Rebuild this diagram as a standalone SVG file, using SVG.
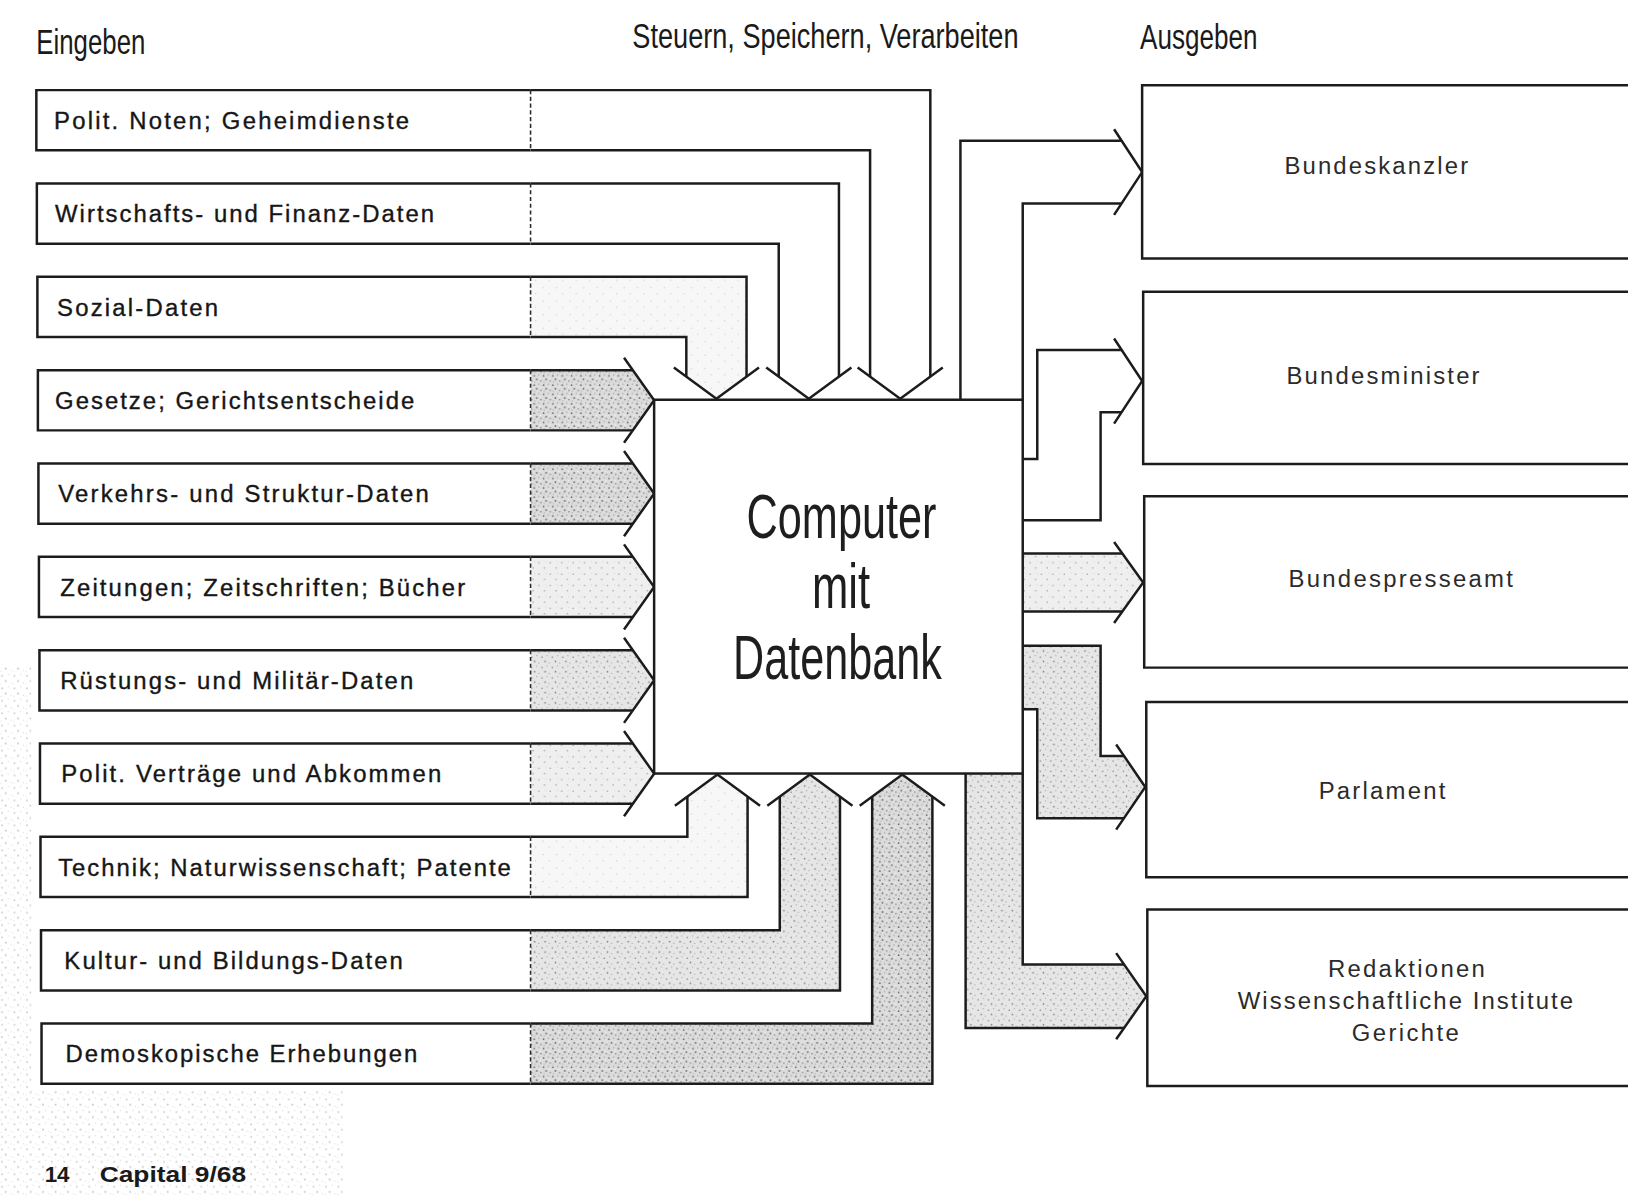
<svg xmlns="http://www.w3.org/2000/svg" width="1628" height="1197" viewBox="0 0 1628 1197">
<defs>
<style>
.ln{fill:none;stroke:#1c1c1c;stroke-width:2.4;stroke-linejoin:miter}
.wg{fill:none;stroke:#1c1c1c;stroke-width:2.4;stroke-linejoin:miter}
.bx{fill:#ffffff;stroke:#1c1c1c;stroke-width:2.4}
.sep{stroke:#2a2a2a;stroke-width:1.5;stroke-dasharray:4 2.5}
.lbl{font-family:"Liberation Sans",Arial,sans-serif;font-size:23px;fill:#161616;stroke:#161616;stroke-width:0.35}
.rlbl{font-family:"Liberation Sans",Arial,sans-serif;font-size:23px;fill:#2b2b2b}
.hdr{font-family:"Liberation Sans",Arial,sans-serif;font-size:34px;fill:#1a1a1a}
.cmp{font-family:"Liberation Sans",Arial,sans-serif;font-size:60px;fill:#1e1e1e}
.ftr{font-family:"Liberation Sans",Arial,sans-serif;font-size:22px;font-weight:bold;fill:#1a1a1a}
.fD{fill:url(#stD);stroke:none}
.fM{fill:url(#stM);stroke:none}
.fL{fill:url(#stL);stroke:none}
.fX{fill:url(#stX);stroke:none}
</style>
<pattern id="stD" width="9" height="9" patternUnits="userSpaceOnUse">
<rect width="9" height="9" fill="#dcdcdc"/>
<circle cx="1.5" cy="2" r="0.8" fill="#666"/>
<circle cx="6" cy="1" r="0.6" fill="#888"/>
<circle cx="4" cy="5.5" r="0.9" fill="#707070"/>
<circle cx="8" cy="7" r="0.6" fill="#666"/>
<circle cx="2" cy="8" r="0.5" fill="#999"/>
<circle cx="7.5" cy="4" r="0.5" fill="#fff"/>
</pattern>
<pattern id="stM" width="10" height="10" patternUnits="userSpaceOnUse">
<rect width="10" height="10" fill="#e6e6e6"/>
<circle cx="2" cy="3" r="0.7" fill="#777"/>
<circle cx="7" cy="1.5" r="0.5" fill="#999"/>
<circle cx="5" cy="7" r="0.8" fill="#808080"/>
<circle cx="9" cy="8.5" r="0.5" fill="#8a8a8a"/>
</pattern>
<pattern id="stL" width="11" height="11" patternUnits="userSpaceOnUse">
<rect width="11" height="11" fill="#efefef"/>
<circle cx="2" cy="3" r="0.6" fill="#8a8a8a"/>
<circle cx="7.5" cy="8" r="0.7" fill="#999"/>
<circle cx="9" cy="2" r="0.4" fill="#aaa"/>
</pattern>
<pattern id="stX" width="13" height="13" patternUnits="userSpaceOnUse">
<rect width="13" height="13" fill="#f7f7f7"/>
<circle cx="3" cy="4" r="0.5" fill="#aaa"/>
<circle cx="9" cy="10" r="0.5" fill="#b5b5b5"/>
</pattern>
<pattern id="nz" width="12" height="12" patternUnits="userSpaceOnUse">
<circle cx="2" cy="3" r="0.9" fill="#8a8a8a"/>
<circle cx="8" cy="1.5" r="0.6" fill="#a0a0a0"/>
<circle cx="5.5" cy="8" r="1" fill="#909090"/>
<circle cx="10.5" cy="9.5" r="0.6" fill="#aaa"/>
<circle cx="1" cy="10.5" r="0.5" fill="#b0b0b0"/>
</pattern>
</defs>
<rect width="1628" height="1197" fill="#ffffff"/>
<g transform="scale(1.0383)">

<g id="scan-noise" opacity="0.45">
<path d="M0 640 H30 V1050 H330 V1153 H0 Z" fill="url(#nz)"/>
</g>

<g id="headers">
<text class="hdr" x="35" y="52" textLength="105" lengthAdjust="spacingAndGlyphs">Eingeben</text>
<text class="hdr" x="609" y="46" textLength="372" lengthAdjust="spacingAndGlyphs">Steuern, Speichern, Verarbeiten</text>
<text class="hdr" x="1098" y="47" textLength="113" lengthAdjust="spacingAndGlyphs">Ausgeben</text>
</g>

<g id="connectors">
<polygon class="fX" points="511,266.6 719,266.6 719,362.8 690,384 661,362.8 661,324.6 511,324.6"/>
<polygon class="fD" points="511,356.5 609.5,356.5 630,385.5 609.5,414.5 511,414.5"/>
<polygon class="fD" points="511,446.4 609.5,446.4 630,475.4 609.5,504.4 511,504.4"/>
<polygon class="fL" points="511,536.3 609.5,536.3 630,565.3 609.5,594.3 511,594.3"/>
<polygon class="fM" points="511,626.2 609.5,626.2 630,655.2 609.5,684.2 511,684.2"/>
<polygon class="fL" points="511,716.1 609.5,716.1 630,745.1 609.5,774.1 511,774.1"/>
<polygon class="fX" points="511,806 662,806 662,767.2 691,746 720,767.2 720,864 511,864"/>
<polygon class="fM" points="511,895.9 751,895.9 751,767.2 780,746 809,767.2 809,953.9 511,953.9"/>
<polygon class="fD" points="511,985.8 840,985.8 840,767.2 869,746 898,767.2 898,1043.8 511,1043.8"/>
<polygon class="fL" points="985,533 1080.9,533 1101,561 1080.9,589 985,589"/>
<polygon class="fM" points="985,622 1060,622 1060,728 1082.5,728 1103,758 1082.5,788 999,788 999,683 985,683"/>
<polygon class="fM" points="930,745 985,745 985,929 1082.7,929 1104,959.5 1082.7,990 930,990"/>

<path class="ln" d="M511 86.8 H896 V362.8 M511 144.8 H838 V362.8"/>
<polyline class="wg" points="826,354 867,384 908,354"/>
<path class="ln" d="M511 176.7 H808 V362.8 M511 234.7 H750 V362.8"/>
<polyline class="wg" points="738,354 779,384 820,354"/>
<path class="ln" d="M511 266.6 H719 V362.8 M511 324.6 H661 V362.8"/>
<polyline class="wg" points="649,354 690,384 731,354"/>

<path class="ln" d="M511 356.5 H609.5 M511 414.5 H609.5"/>
<polyline class="wg" points="601,344.5 630,385.5 601,426.5"/>
<path class="ln" d="M511 446.4 H609.5 M511 504.4 H609.5"/>
<polyline class="wg" points="601,434.4 630,475.4 601,516.4"/>
<path class="ln" d="M511 536.3 H609.5 M511 594.3 H609.5"/>
<polyline class="wg" points="601,524.3 630,565.3 601,606.3"/>
<path class="ln" d="M511 626.2 H609.5 M511 684.2 H609.5"/>
<polyline class="wg" points="601,614.2 630,655.2 601,696.2"/>
<path class="ln" d="M511 716.1 H609.5 M511 774.1 H609.5"/>
<polyline class="wg" points="601,704.1 630,745.1 601,786.1"/>

<path class="ln" d="M511 806 H662 V767.2 M511 864 H720 V767.2"/>
<polyline class="wg" points="650,776 691,746 732,776"/>
<path class="ln" d="M511 895.9 H751 V767.2 M511 953.9 H809 V767.2"/>
<polyline class="wg" points="739,776 780,746 821,776"/>
<path class="ln" d="M511 985.8 H840 V767.2 M511 1043.8 H898 V767.2"/>
<polyline class="wg" points="828,776 869,746 910,776"/>

<path class="ln" d="M925 385 V135.5 H1080.2 M985 385 V196 H1080.2"/>
<polyline class="wg" points="1073,124.5 1100,165.75 1073,207"/>
<path class="ln" d="M985 442 H999 V337 H1080.2 M985 501 H1060 V397 H1080.2"/>
<polyline class="wg" points="1073,326 1100,367 1073,408"/>
<path class="ln" d="M985 533 H1080.9 M985 589 H1080.9"/>
<polyline class="wg" points="1073,522 1101,561 1073,600"/>
<path class="ln" d="M985 622 H1060 V728 H1082.5 M985 683 H999 V788 H1082.5"/>
<polyline class="wg" points="1075,717 1103,758 1075,799"/>
<path class="ln" d="M985 745 V929 H1082.7 M930 745 V990 H1082.7"/>
<polyline class="wg" points="1075,918 1104,959.5 1075,1001"/>
</g>

<g id="node-in-1"><path class="bx" d="M511 86.8 H35 V144.8 H511"/><line class="sep" x1="511" y1="86.8" x2="511" y2="144.8"/><text class="lbl" x="52" y="124.3" textLength="342" lengthAdjust="spacing">Polit. Noten; Geheimdienste</text></g>
<g id="node-in-2"><path class="bx" d="M511 176.7 H35.5 V234.7 H511"/><line class="sep" x1="511" y1="176.7" x2="511" y2="234.7"/><text class="lbl" x="53" y="214.2" textLength="365" lengthAdjust="spacing">Wirtschafts- und Finanz-Daten</text></g>
<g id="node-in-3"><path class="bx" d="M511 266.6 H36 V324.6 H511"/><line class="sep" x1="511" y1="266.6" x2="511" y2="324.6"/><text class="lbl" x="55" y="304.1" textLength="155" lengthAdjust="spacing">Sozial-Daten</text></g>
<g id="node-in-4"><path class="bx" d="M511 356.5 H36.5 V414.5 H511"/><line class="sep" x1="511" y1="356.5" x2="511" y2="414.5"/><text class="lbl" x="53" y="394" textLength="346" lengthAdjust="spacing">Gesetze; Gerichtsentscheide</text></g>
<g id="node-in-5"><path class="bx" d="M511 446.4 H37 V504.4 H511"/><line class="sep" x1="511" y1="446.4" x2="511" y2="504.4"/><text class="lbl" x="56" y="483.9" textLength="357" lengthAdjust="spacing">Verkehrs- und Struktur-Daten</text></g>
<g id="node-in-6"><path class="bx" d="M511 536.3 H37.5 V594.3 H511"/><line class="sep" x1="511" y1="536.3" x2="511" y2="594.3"/><text class="lbl" x="58" y="573.8" textLength="390" lengthAdjust="spacing">Zeitungen; Zeitschriften; Bücher</text></g>
<g id="node-in-7"><path class="bx" d="M511 626.2 H38 V684.2 H511"/><line class="sep" x1="511" y1="626.2" x2="511" y2="684.2"/><text class="lbl" x="58" y="663.7" textLength="340" lengthAdjust="spacing">Rüstungs- und Militär-Daten</text></g>
<g id="node-in-8"><path class="bx" d="M511 716.1 H38.5 V774.1 H511"/><line class="sep" x1="511" y1="716.1" x2="511" y2="774.1"/><text class="lbl" x="59" y="753.6" textLength="366" lengthAdjust="spacing">Polit. Verträge und Abkommen</text></g>
<g id="node-in-9"><path class="bx" d="M511 806 H39 V864 H511"/><line class="sep" x1="511" y1="806" x2="511" y2="864"/><text class="lbl" x="56" y="843.5" textLength="436" lengthAdjust="spacing">Technik; Naturwissenschaft; Patente</text></g>
<g id="node-in-10"><path class="bx" d="M511 895.9 H39.5 V953.9 H511"/><line class="sep" x1="511" y1="895.9" x2="511" y2="953.9"/><text class="lbl" x="62" y="933.4" textLength="326" lengthAdjust="spacing">Kultur- und Bildungs-Daten</text></g>
<g id="node-in-11"><path class="bx" d="M511 985.8 H40 V1043.8 H511"/><line class="sep" x1="511" y1="985.8" x2="511" y2="1043.8"/><text class="lbl" x="63" y="1023.3" textLength="339" lengthAdjust="spacing">Demoskopische Erhebungen</text></g>

<g id="node-computer">
<rect class="bx" x="630" y="385" width="355" height="360"/>
<text class="cmp" x="719" y="518" textLength="183" lengthAdjust="spacingAndGlyphs">Computer</text>
<text class="cmp" x="782" y="586" textLength="56" lengthAdjust="spacingAndGlyphs">mit</text>
<text class="cmp" x="706" y="654" textLength="201" lengthAdjust="spacingAndGlyphs">Datenbank</text>
</g>

<g id="node-out-1"><path class="bx" d="M1640 82 H1100 V249 H1640"/><text class="rlbl" x="1237" y="168" textLength="177" lengthAdjust="spacing">Bundeskanzler</text></g>
<g id="node-out-2"><path class="bx" d="M1640 281 H1101 V447 H1640"/><text class="rlbl" x="1239" y="370" textLength="186" lengthAdjust="spacing">Bundesminister</text></g>
<g id="node-out-3"><path class="bx" d="M1640 478 H1102 V643 H1640"/><text class="rlbl" x="1241" y="565" textLength="216" lengthAdjust="spacing">Bundespresseamt</text></g>
<g id="node-out-4"><path class="bx" d="M1640 676 H1104 V845 H1640"/><text class="rlbl" x="1270" y="770" textLength="122" lengthAdjust="spacing">Parlament</text></g>
<g id="node-out-5"><path class="bx" d="M1640 876 H1105 V1046 H1640"/>
<text class="rlbl" x="1279" y="941" textLength="151" lengthAdjust="spacing">Redaktionen</text>
<text class="rlbl" x="1192" y="972" textLength="323" lengthAdjust="spacing">Wissenschaftliche Institute</text>
<text class="rlbl" x="1302" y="1003" textLength="103" lengthAdjust="spacing">Gerichte</text>
</g>

<g id="footer">
<text class="ftr" x="43" y="1138" textLength="24" lengthAdjust="spacingAndGlyphs">14</text>
<text class="ftr" x="96" y="1138" textLength="141" lengthAdjust="spacingAndGlyphs">Capital 9/68</text>
</g>
</g>
</svg>
